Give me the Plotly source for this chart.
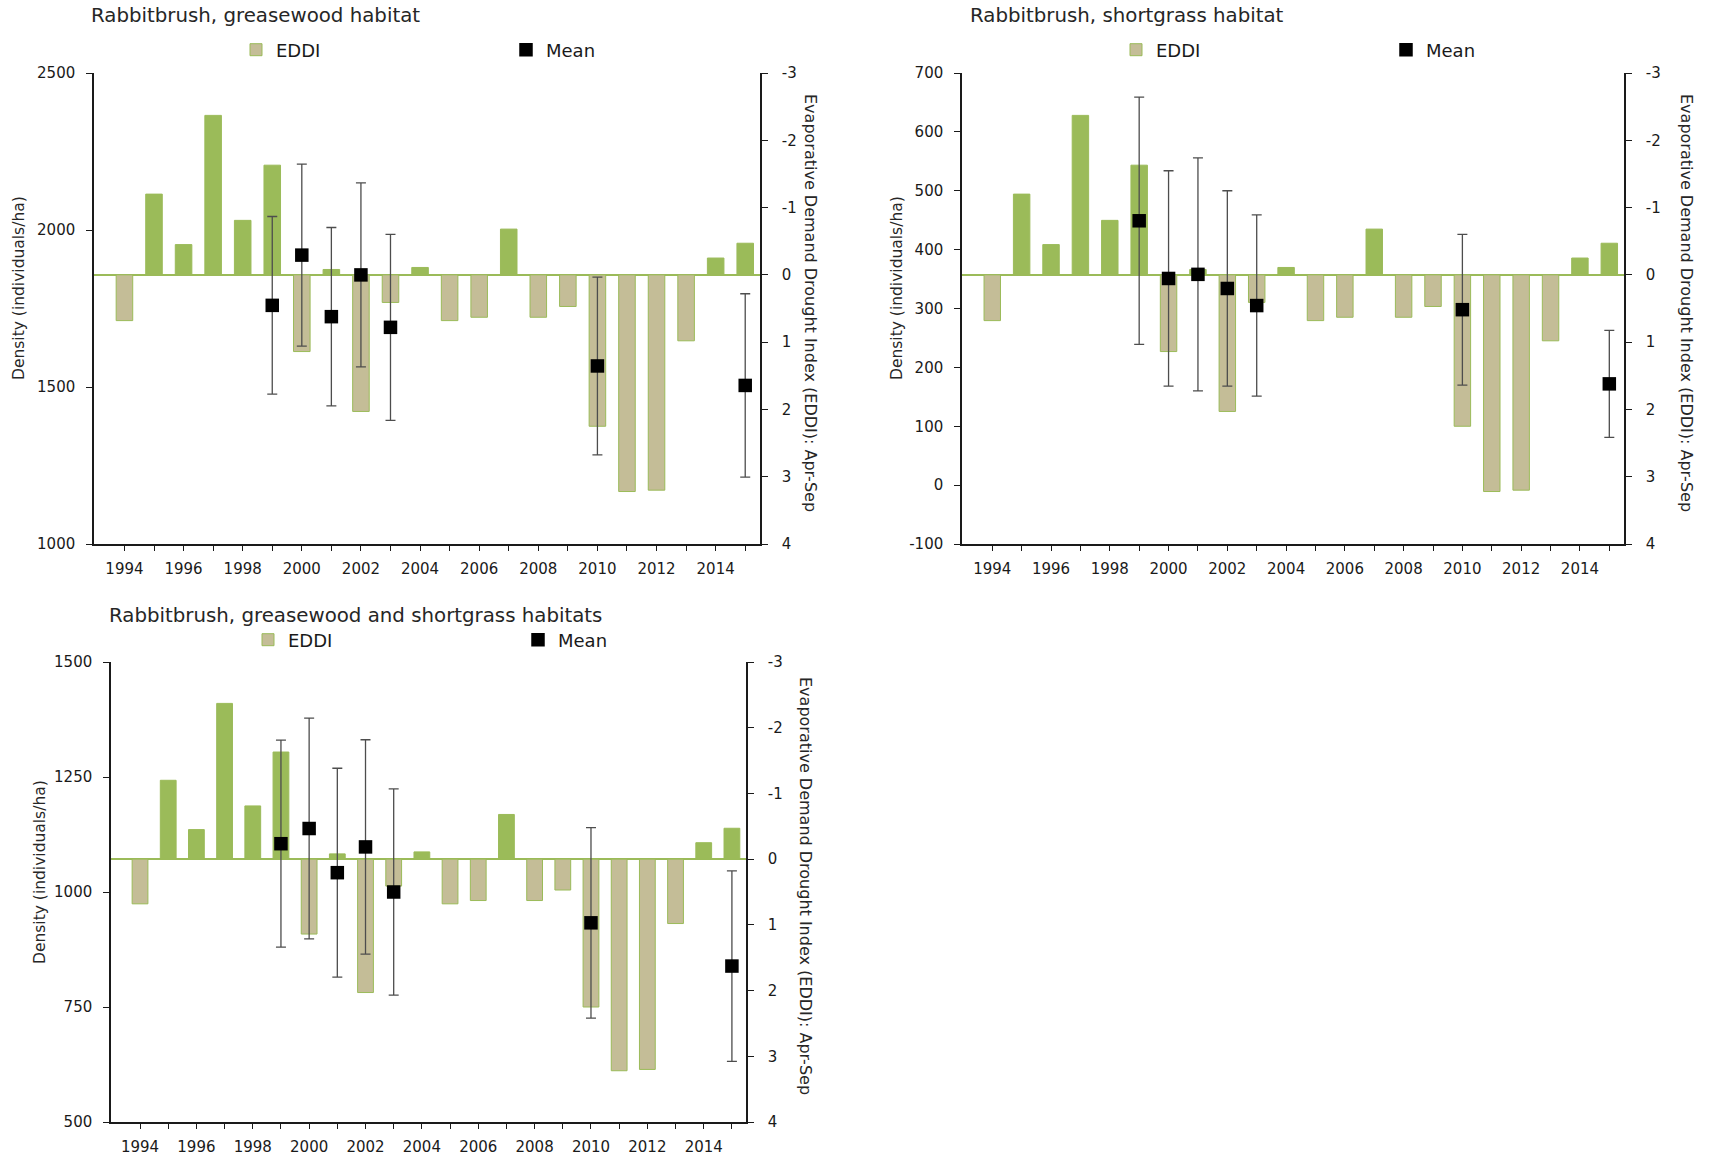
import plotly.graph_objects as go

# ---- data -------------------------------------------------------------
years = list(range(1994, 2016))
year_labels = [str(y) if y % 2 == 0 else "" for y in years]

# Evaporative Demand Drought Index, Apr-Sep (shared by all three panels)
eddi = [0.68, -1.20, -0.45, -2.37, -0.81, -1.63, 1.14, -0.08, 2.03, 0.41, -0.11,
        0.68, 0.63, -0.68, 0.63, 0.47, 2.25, 3.22, 3.20, 0.98, -0.25, -0.47]
eddi_ticks = [-3, -2, -1, 0, 1, 2, 3, 4]

mean_years = [1999, 2000, 2001, 2002, 2003, 2010, 2015]

greasewood_mean = [1760, 1920, 1724, 1857, 1690, 1567, 1505]
greasewood_err = [283, 290, 284, 293, 296, 283, 292]
greasewood_ticks = [1000, 1500, 2000, 2500]

shortgrass_mean = [449, 351, 358, 334, 305, 298, 172]
shortgrass_err = [210, 183, 198, 166, 154, 128, 91]
shortgrass_ticks = [-100, 0, 100, 200, 300, 400, 500, 600, 700]

combined_mean = [1105, 1138, 1042, 1098, 1000, 933, 839]
combined_err = [225, 240, 227, 233, 224, 207, 207]
combined_ticks = [500, 750, 1000, 1250, 1500]

panel_titles = [
    "Rabbitbrush, greasewood habitat",
    "Rabbitbrush, shortgrass habitat",
    "Rabbitbrush, greasewood and shortgrass habitats",
]
density_title = "Density (individuals/ha)"
eddi_title = "Evaporative Demand Drought Index (EDDI): Apr-Sep"

# ---- styling ----------------------------------------------------------
W, H = 1709, 1159
GREEN = "#9BBB59"
TAN = "#C4BD97"
FONT = "DejaVu Sans, Verdana, sans-serif"
INK = "#1a1a1a"


def px(x):
    return x / W


def py(y):
    return 1 - y / H


bar_colors = [TAN if v > 0 else GREEN for v in eddi]

panels = [
    dict(mean=greasewood_mean, err=greasewood_err, ticks=greasewood_ticks,
         xdom=[94, 760], ydom=[73, 544], title_xy=(89, 16), legend_xy=(236, 50),
         ltitle_xy=(19, 288), rtitle_xy=(811, 303)),
    dict(mean=shortgrass_mean, err=shortgrass_err, ticks=shortgrass_ticks,
         xdom=[962, 1624], ydom=[73, 544], title_xy=(968, 16), legend_xy=(1116, 50),
         ltitle_xy=(897, 288), rtitle_xy=(1687, 303)),
    dict(mean=combined_mean, err=combined_err, ticks=combined_ticks,
         xdom=[111, 746], ydom=[662, 1122], title_xy=(107, 615), legend_xy=(248, 640),
         ltitle_xy=(40, 872), rtitle_xy=(806, 886)),
]

fig = go.Figure()
layout = dict(
    width=W, height=H,
    margin=dict(l=0, r=0, t=0, b=0, autoexpand=False),
    paper_bgcolor="white", plot_bgcolor="white",
    font=dict(family=FONT, color=INK),
    showlegend=True,
    barmode="overlay",
)
annotations = []

for i, p in enumerate(panels):
    n = i + 1
    xa = "x" if n == 1 else f"x{n}"
    ya_eddi = f"y{2 * n - 1}" if n > 1 else "y"
    ya_dens = f"y{2 * n}"
    leg = "legend" if n == 1 else f"legend{n}"

    # EDDI bars on the right-hand (reversed) axis
    fig.add_trace(go.Bar(
        x=years, y=eddi, width=0.56, name="EDDI",
        marker=dict(color=bar_colors, line=dict(color=GREEN, width=1)),
        xaxis=xa, yaxis=ya_eddi, legend=leg, hoverinfo="x+y",
    ))
    # Mean density with error bars on the left-hand axis (drawn on top)
    fig.add_trace(go.Scatter(
        x=mean_years, y=p["mean"], mode="markers", name="Mean",
        marker=dict(symbol="square", size=13.5, color="black"),
        error_y=dict(type="data", array=p["err"], visible=True,
                     color="#4d4d4d", thickness=1.3, width=5),
        xaxis=xa, yaxis=ya_dens, legend=leg,
    ))

    xkey = "xaxis" if n == 1 else f"xaxis{n}"
    ykey_eddi = "yaxis" if n == 1 else f"yaxis{2 * n - 1}"
    ykey_dens = f"yaxis{2 * n}"

    layout[xkey] = dict(
        domain=[px(p["xdom"][0]), px(p["xdom"][1])],
        anchor=ya_eddi, range=[1992.97, 2015.5],
        tickmode="array", tickvals=years, ticktext=year_labels,
        ticks="outside", ticklen=5, tickwidth=1.3, tickcolor=INK,
        showline=True, linecolor=INK, linewidth=1.5,
        showgrid=False, zeroline=False,
        tickfont=dict(size=15, color=INK), ticklabelstandoff=5,
    )
    layout[ykey_eddi] = dict(
        domain=[py(p["ydom"][1]), py(p["ydom"][0])],
        anchor=xa, side="right", range=[4, -3],
        tickmode="array", tickvals=eddi_ticks,
        ticktext=[str(v) for v in eddi_ticks],
        ticks="outside", ticklen=6, tickwidth=1.3, tickcolor=INK,
        showline=True, linecolor=INK, linewidth=1.5,
        showgrid=False, zeroline=True, zerolinecolor=GREEN, zerolinewidth=1.8,
        tickfont=dict(size=15, color=INK), ticklabelstandoff=11,
    )
    layout[ykey_dens] = dict(
        overlaying=ya_eddi, anchor=xa, side="left",
        range=[p["ticks"][0], p["ticks"][-1]],
        tickmode="array", tickvals=p["ticks"],
        ticktext=[str(v) for v in p["ticks"]],
        ticks="outside", ticklen=6, tickwidth=1.3, tickcolor=INK,
        showline=True, linecolor=INK, linewidth=1.5,
        showgrid=False, zeroline=False,
        tickfont=dict(size=15, color=INK), ticklabelstandoff=8,
    )
    layout[leg] = dict(
        x=px(p["legend_xy"][0]), y=py(p["legend_xy"][1]),
        xanchor="left", yanchor="middle",
        orientation="h", itemwidth=30, entrywidth=225, entrywidthmode="pixels",
        font=dict(family=FONT, size=18, color=INK),
        bgcolor="rgba(0,0,0,0)", traceorder="normal",
    )

    annotations.append(dict(
        text=panel_titles[i], x=px(p["title_xy"][0]), y=py(p["title_xy"][1]),
        xref="paper", yref="paper", xanchor="left", yanchor="middle",
        showarrow=False, font=dict(family=FONT, size=19.8, color="#262626"),
    ))
    annotations.append(dict(
        text=density_title, x=px(p["ltitle_xy"][0]), y=py(p["ltitle_xy"][1]),
        xref="paper", yref="paper", xanchor="center", yanchor="middle",
        textangle=-90, showarrow=False,
        font=dict(family=FONT, size=15.5, color="#262626"),
    ))
    annotations.append(dict(
        text=eddi_title, x=px(p["rtitle_xy"][0]), y=py(p["rtitle_xy"][1]),
        xref="paper", yref="paper", xanchor="center", yanchor="middle",
        textangle=90, showarrow=False,
        font=dict(family=FONT, size=16, color="#262626"),
    ))

layout["annotations"] = annotations
fig.update_layout(**layout)

fig.write_html("out.html")
